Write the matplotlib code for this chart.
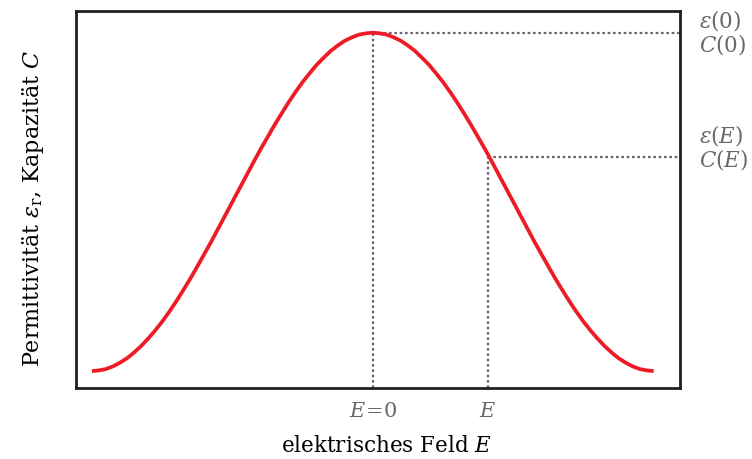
import matplotlib
matplotlib.use("Agg")
import matplotlib.pyplot as plt

plt.rcParams['font.family'] = ['DejaVu Serif']
plt.rcParams['mathtext.fontset'] = 'custom'
plt.rcParams['mathtext.rm'] = 'DejaVu Serif'
plt.rcParams['mathtext.it'] = 'DejaVu Serif:italic'

# field strength (arbitrary units) and permittivity / capacitance (normalised)
field = [-1.000, -0.975, -0.950, -0.925, -0.900, -0.875, -0.850, -0.825, -0.800, -0.775,
         -0.750, -0.725, -0.700, -0.675, -0.650, -0.625, -0.600, -0.575, -0.550, -0.525,
         -0.500, -0.475, -0.450, -0.425, -0.400, -0.375, -0.350, -0.325, -0.300, -0.275,
         -0.250, -0.225, -0.200, -0.175, -0.150, -0.125, -0.100, -0.075, -0.050, -0.025,
         0.000, 0.025, 0.050, 0.075, 0.100, 0.125, 0.150, 0.175, 0.200, 0.225,
         0.250, 0.275, 0.300, 0.325, 0.350, 0.375, 0.400, 0.425, 0.450, 0.475,
         0.500, 0.525, 0.550, 0.575, 0.600, 0.625, 0.650, 0.675, 0.700, 0.725,
         0.750, 0.775, 0.800, 0.825, 0.850, 0.875, 0.900, 0.925, 0.950, 0.975, 1.000]
permittivity = [0.000, 0.002, 0.006, 0.014, 0.025, 0.038, 0.055, 0.074, 0.096, 0.120,
                0.146, 0.175, 0.206, 0.239, 0.273, 0.309, 0.346, 0.383, 0.422, 0.461,
                0.500, 0.539, 0.578, 0.617, 0.655, 0.691, 0.727, 0.761, 0.794, 0.825,
                0.854, 0.880, 0.905, 0.926, 0.946, 0.962, 0.976, 0.986, 0.994, 0.998,
                1.000, 0.998, 0.994, 0.986, 0.976, 0.962, 0.946, 0.926, 0.905, 0.880,
                0.854, 0.825, 0.794, 0.761, 0.727, 0.691, 0.655, 0.617, 0.578, 0.539,
                0.500, 0.461, 0.422, 0.383, 0.346, 0.309, 0.273, 0.239, 0.206, 0.175,
                0.146, 0.120, 0.096, 0.074, 0.055, 0.038, 0.025, 0.014, 0.006, 0.002, 0.000]

E_zero, eps_zero = 0.0, 1.0
E_bias, eps_bias = 0.41, 0.633

tick_pos = [E_zero, E_bias]
tick_labels = [r'$E\!=\!0$', r'$E$']

grey = '#6d6470'
red = '#ed1c24'

fig = plt.figure(figsize=(7.52, 4.59), dpi=100)
ax = fig.add_axes([0.101, 0.1547, 0.803, 0.8213])
ax.set_xlim(-1.057, 1.093)
ax.set_ylim(-0.05, 1.064)

ax.plot(field, permittivity, color=red, lw=2.7, solid_capstyle='butt', zorder=3)

dots = dict(color=grey, lw=1.6, linestyle=(0, (1.2, 1.2)), zorder=2)
ax.plot([E_zero, E_zero], [-0.05, eps_zero], **dots)
ax.plot([E_zero, 1.093], [eps_zero, eps_zero], **dots)
ax.plot([E_bias, E_bias], [-0.05, eps_bias], **dots)
ax.plot([E_bias, 1.093], [eps_bias, eps_bias], **dots)

for s in ax.spines.values():
    s.set_linewidth(2.0)
    s.set_color('#231f20')

ax.set_yticks([])
ax.set_xticks(tick_pos)
ax.set_xticklabels(tick_labels, color=grey, fontsize=15)
ax.tick_params(axis='x', length=0, pad=10)

ax.set_xlabel(r'elektrisches Feld $E$', fontsize=15.5)
ax.xaxis.set_label_coords(0.515, -0.125)
ax.set_ylabel(r'Permittivität $\varepsilon_\mathrm{r}$, Kapazität $C$', fontsize=16)
ax.yaxis.set_label_coords(-0.050, 0.477)

right = dict(color=grey, fontsize=15.5, ha='left', va='center',
             textcoords='offset pixels', annotation_clip=False)
ax.annotate(r'$\varepsilon(0)$', xy=(1.093, eps_zero), xytext=(19, 12), **right)
ax.annotate(r'$C(0)$', xy=(1.093, eps_zero), xytext=(19, -12), **right)
ax.annotate(r'$\varepsilon(E)$', xy=(1.093, eps_bias), xytext=(19, 21), **right)
ax.annotate(r'$C(E)$', xy=(1.093, eps_bias), xytext=(19, -3), **right)

fig.savefig('out.png', dpi=100)
